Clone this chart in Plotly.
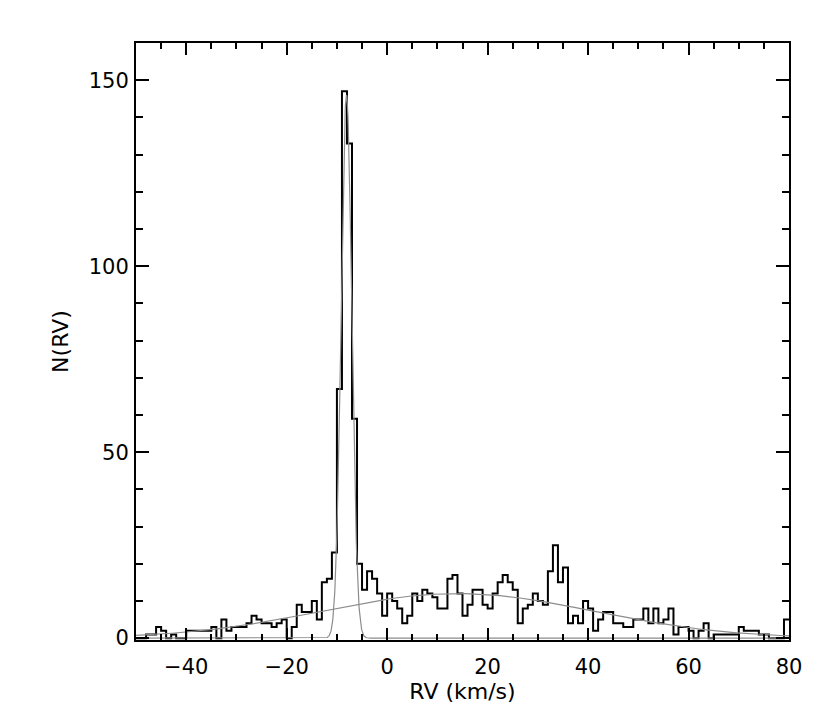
import numpy as np
import plotly.graph_objects as go

# Histogram of radial velocities: 1 km/s bins from -50 to 80
bin_start = -50
bin_width = 1
counts = [
    0, 0, 1, 1, 3, 2, 0, 1, 0, 0,        # -50 .. -41
    2, 2, 2, 2, 2, 3, 0, 5, 2, 3,        # -40 .. -31
    3, 3, 4, 6, 5, 4, 4, 3, 4, 5,        # -30 .. -21
    0, 3, 9, 7, 7, 10, 5, 15, 16, 23,    # -20 .. -11
    67, 147, 133, 59, 20, 13, 18, 16, 12, 6,   # -10 .. -1
    12, 10, 8, 4, 6, 12, 10, 13, 12, 11,  # 0 .. 9
    8, 8, 16, 17, 12, 6, 9, 13, 13, 9,    # 10 .. 19
    8, 12, 15, 17, 15, 13, 4, 8, 9, 12,   # 20 .. 29
    10, 9, 18, 25, 15, 19, 4, 6, 4, 10,   # 30 .. 39
    8, 2, 5, 7, 7, 4, 4, 3, 3, 5,         # 40 .. 49
    5, 8, 4, 8, 4, 5, 8, 1, 3, 3,         # 50 .. 59
    2, 0, 2, 4, 0, 1, 1, 1, 1, 1,         # 60 .. 69
    3, 2, 2, 2, 1, 1, 0, 0, 0, 5,         # 70 .. 79
]

# Two Gaussian components fitted to the distribution
narrow_amp, narrow_mu, narrow_sigma = 146.0, -8.1, 1.05
broad_amp, broad_mu, broad_sigma = 12.0, 14.0, 27.0

x_tick_vals = [-40, -20, 0, 20, 40, 60, 80]
y_tick_vals = [0, 50, 100, 150]

n = len(counts)
edges = [bin_start + i * bin_width for i in range(n + 1)]
hx = edges
hy = counts + [counts[-1]]

xs = np.linspace(edges[0], edges[-1], 2601)
g_narrow = narrow_amp * np.exp(-0.5 * ((xs - narrow_mu) / narrow_sigma) ** 2)
g_broad = broad_amp * np.exp(-0.5 * ((xs - broad_mu) / broad_sigma) ** 2)

fig = go.Figure()
fig.add_trace(go.Scatter(x=hx, y=hy, mode="lines", line_shape="hv",
                         line=dict(color="black", width=2), showlegend=False,
                         hoverinfo="skip"))
fig.add_trace(go.Scatter(x=xs, y=g_narrow, mode="lines",
                         line=dict(color="rgb(140,140,140)", width=1.2),
                         showlegend=False, hoverinfo="skip"))
fig.add_trace(go.Scatter(x=xs, y=g_broad, mode="lines",
                         line=dict(color="rgb(140,140,140)", width=1.2),
                         showlegend=False, hoverinfo="skip"))

font = dict(family="DejaVu Sans", size=21, color="black")
title_font = dict(family="DejaVu Sans", size=22, color="black")

fig.update_layout(
    width=814, height=711,
    margin=dict(l=128, r=33, t=35, b=79),
    paper_bgcolor="white", plot_bgcolor="white",
    font=font,
    xaxis=dict(
        range=[-50, 80], tickvals=x_tick_vals,
        ticks="inside", ticklen=12, tickwidth=1.5, tickcolor="black",
        showline=True, linewidth=2, linecolor="black", mirror="ticks",
        showgrid=False, zeroline=False,
        minor=dict(dtick=5, tick0=0, ticks="inside", ticklen=6, tickwidth=1.5,
                   tickcolor="black", showgrid=False),
        title=dict(text="RV (km/s)", font=title_font, standoff=4),
        ticklabelstandoff=7,
    ),
    yaxis=dict(
        range=[-0.5, 160], tickvals=y_tick_vals,
        ticks="inside", ticklen=13, tickwidth=1.5, tickcolor="black",
        showline=True, linewidth=2, linecolor="black", mirror="ticks",
        showgrid=False, zeroline=False,
        minor=dict(dtick=10, tick0=0, ticks="inside", ticklen=7, tickwidth=1.5,
                   tickcolor="black", showgrid=False),
        title=dict(text="N(RV)", font=title_font, standoff=14),
        ticklabelstandoff=1,
    ),
)

fig.write_html("out.html")
